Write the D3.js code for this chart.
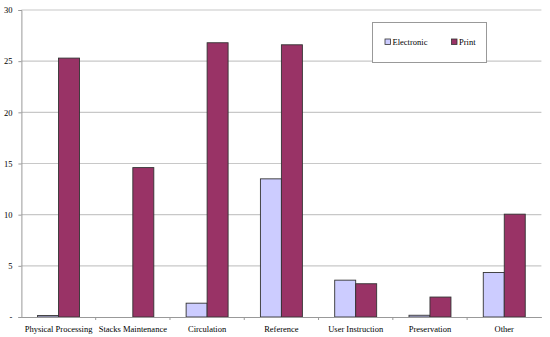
<!DOCTYPE html>
<html><head><meta charset="utf-8">
<script src="https://cdnjs.cloudflare.com/ajax/libs/d3/7.8.5/d3.min.js"></script>
<style>body{margin:0;background:#fff}svg{display:block;font-family:"Liberation Serif","Times New Roman",serif}</style>
</head><body><svg id="c" width="550" height="337"></svg>
<script>
const categories = ["Physical Processing","Stacks Maintenance","Circulation","Reference","User Instruction","Preservation","Other"];
const seriesNames = ["Electronic","Print"];
const electronic = [0.15, 0, 1.35, 13.5, 3.6, 0.17, 4.35];
const print = [25.3, 14.6, 26.8, 26.6, 3.25, 1.95, 10.05];
const yTicks = [0,5,10,15,20,25,30];
const yTickLabels = ["-","5","10","15","20","25","30"];
const colors = ["#CCCCFF","#993366"];
const FONT = "'Liberation Serif', 'Times New Roman', serif";

const svg = d3.select("#c");
const pLeft = 21.4, pRight = 541.4, pTop = 10, pBottom = 317;
const x0 = d3.scaleBand().domain(categories).range([pLeft,pRight]).padding(0);
const x1 = d3.scaleBand().domain(seriesNames).range([0,x0.bandwidth()]).paddingInner(0).paddingOuter(0.77);
const y = d3.scaleLinear().domain([0,30]).range([pBottom,pTop]);

// grid
svg.append("g").selectAll("line").data(yTicks.slice(1)).join("line")
  .attr("x1",pLeft).attr("x2",pRight).attr("y1",d=>y(d)).attr("y2",d=>y(d))
  .attr("stroke","#c8c8c8").attr("stroke-width",1.2);

// y axis
const ya = svg.append("g").attr("transform",`translate(${pLeft},0)`)
  .call(d3.axisLeft(y).tickValues(yTicks).tickFormat((d,i)=>yTickLabels[i]).tickSize(3).tickPadding(6));
ya.select(".domain").attr("stroke","#999");
ya.selectAll(".tick line").attr("stroke","#999");
ya.selectAll("text").attr("font-size",8.5).style("font-family",FONT).attr("fill","#000");

// bars
const data = categories.map((c,i)=>({c, vals:[electronic[i],print[i]]}));
const g = svg.append("g");
data.forEach(d=>{
  d.vals.forEach((v,j)=>{
    if(v<=0) return;
    g.append("rect")
      .attr("x",x0(d.c)+x1(seriesNames[j]))
      .attr("y",y(v))
      .attr("width",x1.bandwidth())
      .attr("height",y(0)-y(v))
      .attr("fill",colors[j])
      .attr("stroke","#333").attr("stroke-width",0.9);
  });
});

// x axis
const xa = svg.append("g").attr("transform",`translate(0,${pBottom})`)
  .call(d3.axisBottom(x0).tickSize(0).tickPadding(9));
xa.select(".domain").attr("stroke","#999");
xa.selectAll("text").attr("font-size",8.5).style("font-family",FONT).attr("fill","#000");
// boundary tick marks
svg.append("g").selectAll("line").data(categories.slice(1)).join("line")
  .attr("x1",d=>x0(d)).attr("x2",d=>x0(d)).attr("y1",pBottom).attr("y2",pBottom+3)
  .attr("stroke","#999");

// legend
const lg = svg.append("g");
lg.append("rect").attr("x",372.5).attr("y",22.5).attr("width",114).attr("height",40)
  .attr("fill","#fff").attr("stroke","#999");
const lx = [385, 451.5];
seriesNames.forEach((s,i)=>{
  lg.append("rect").attr("x",lx[i]).attr("y",39).attr("width",5.5).attr("height",5.5)
    .attr("fill",colors[i]).attr("stroke","#333").attr("stroke-width",0.8);
  lg.append("text").attr("x",lx[i]+7.5).attr("y",45).attr("font-size",8.5).style("font-family",FONT).text(s);
});
</script></body></html>
